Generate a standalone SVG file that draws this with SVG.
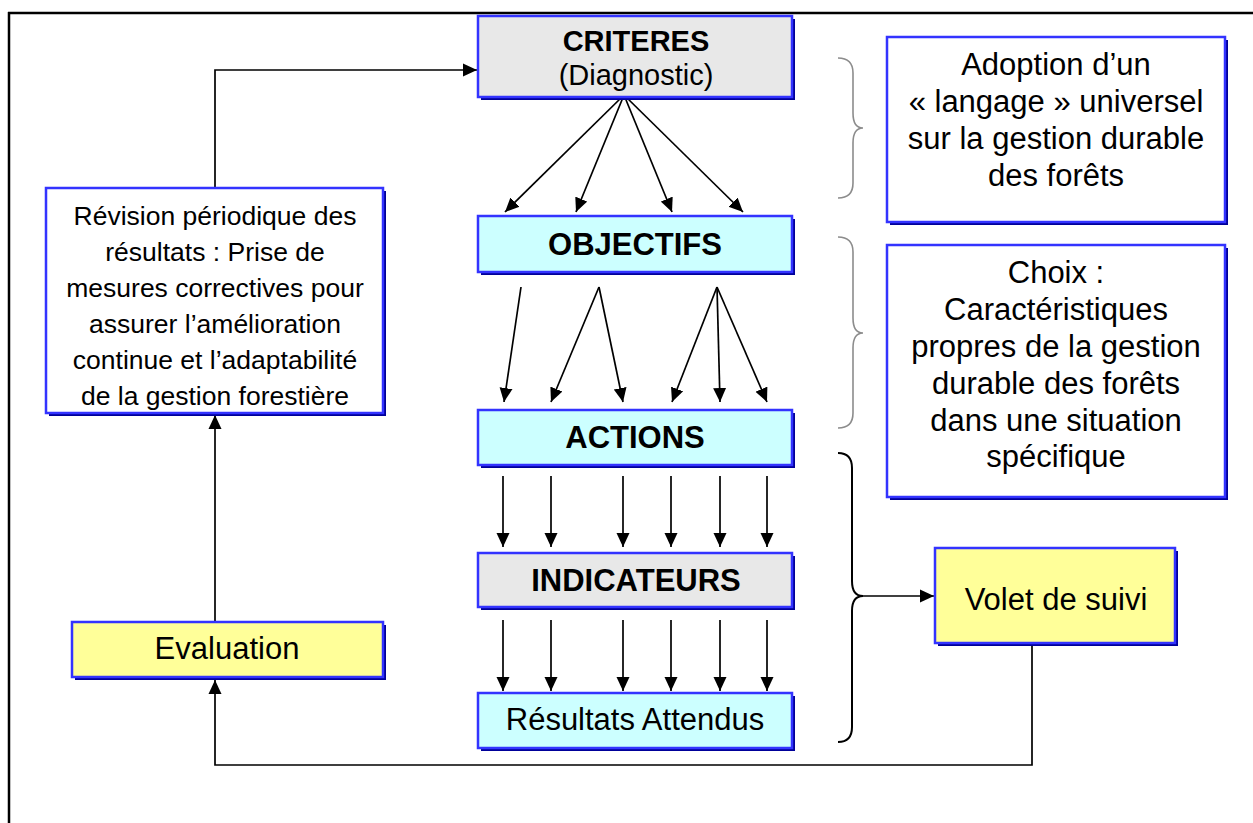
<svg xmlns="http://www.w3.org/2000/svg" width="1253" height="823" viewBox="0 0 1253 823">
<defs>
<marker id="ah" markerWidth="14" markerHeight="14" refX="14" refY="7" orient="auto" markerUnits="userSpaceOnUse">
<path d="M0,0.5 L14,7 L0,13.5 Z" fill="#000"/>
</marker>
<style>
.sh{fill:#000099}
.bx{stroke:#3333ff;stroke-width:2.5}
.gray{fill:#e8e8e8}
.cyan{fill:#ccffff}
.yel{fill:#ffff99}
.wht{fill:#ffffff}
.t{font-family:"Liberation Sans",Arial,sans-serif;fill:#000;text-anchor:middle}
.b{font-weight:bold;font-size:31px}
.r{font-size:31px}
.s{font-size:26.5px}
.c{font-size:29px}
.ln{fill:none;stroke:#000;stroke-width:1.6}
.ar{fill:none;stroke:#000;stroke-width:1.7;marker-end:url(#ah)}
.brg{fill:none;stroke:#8c8c8c;stroke-width:1.6}
.brk{fill:none;stroke:#000;stroke-width:2}
</style>
</defs>
<rect width="1253" height="823" fill="#fff"/>
<g id="frame">
<line x1="8" y1="13" x2="1253" y2="13" stroke="#000" stroke-width="2.5"/>
<line x1="9" y1="12" x2="9" y2="823" stroke="#000" stroke-width="2.5"/>
</g>
<g id="connectors">
<polyline class="ar" points="215,188 215,70 477,70"/>
<line class="ar" x1="215" y1="622" x2="215" y2="415"/>
<polyline class="ar" points="1032,643 1032,765 215,765 215,680"/>
<line class="ar" x1="624" y1="95" x2="505" y2="212"/>
<line class="ar" x1="624" y1="95" x2="576" y2="212"/>
<line class="ar" x1="624" y1="95" x2="672" y2="212"/>
<line class="ar" x1="624" y1="95" x2="743" y2="212"/>
<line class="ar" x1="521" y1="287" x2="504" y2="402"/>
<line class="ar" x1="599" y1="287" x2="551" y2="402"/>
<line class="ar" x1="599" y1="287" x2="623" y2="402"/>
<line class="ar" x1="717" y1="287" x2="672" y2="402"/>
<line class="ar" x1="717" y1="287" x2="720" y2="402"/>
<line class="ar" x1="717" y1="287" x2="767" y2="402"/>
<line class="ar" x1="503" y1="476" x2="503" y2="547"/>
<line class="ar" x1="551" y1="476" x2="551" y2="547"/>
<line class="ar" x1="623" y1="476" x2="623" y2="547"/>
<line class="ar" x1="671" y1="476" x2="671" y2="547"/>
<line class="ar" x1="720" y1="476" x2="720" y2="547"/>
<line class="ar" x1="767" y1="476" x2="767" y2="547"/>
<line class="ar" x1="503" y1="620" x2="503" y2="691"/>
<line class="ar" x1="551" y1="620" x2="551" y2="691"/>
<line class="ar" x1="623" y1="620" x2="623" y2="691"/>
<line class="ar" x1="671" y1="620" x2="671" y2="691"/>
<line class="ar" x1="720" y1="620" x2="720" y2="691"/>
<line class="ar" x1="767" y1="620" x2="767" y2="691"/>
<path class="brg" d="M838,58 Q853,58 853,73 L853,113 Q853,128 863,128 Q853,128 853,143 L853,183 Q853,198 838,198"/>
<path class="brg" d="M838,237 Q853,237 853,252 L853,318 Q853,333 863,333 Q853,333 853,348 L853,413 Q853,428 838,428"/>
<path class="brk" d="M838,453 Q852,453 852,468 L852,581 Q852,596 863,596 Q852,596 852,611 L852,727 Q852,742 838,742"/>
<line class="ar" x1="863" y1="596" x2="934" y2="596"/>
</g>
<g id="criteres">
<rect class="sh" x="481" y="19" width="314" height="81"/>
<rect class="bx gray" x="478" y="16" width="314" height="81"/>
<text class="t c" x="636" y="51" font-weight="bold">CRITERES</text>
<text class="t c" x="636" y="85">(Diagnostic)</text>
</g>
<g id="objectifs">
<rect class="sh" x="481" y="219" width="314" height="56"/>
<rect class="bx cyan" x="478" y="216" width="314" height="56"/>
<text class="t b" x="635" y="255">OBJECTIFS</text>
</g>
<g id="actions">
<rect class="sh" x="481" y="413" width="314" height="55"/>
<rect class="bx cyan" x="478" y="410" width="314" height="55"/>
<text class="t b" x="635" y="448">ACTIONS</text>
</g>
<g id="indicateurs">
<rect class="sh" x="481" y="556" width="314" height="54"/>
<rect class="bx gray" x="478" y="553" width="314" height="54"/>
<text class="t b" x="636" y="591">INDICATEURS</text>
</g>
<g id="resultats">
<rect class="sh" x="481" y="696" width="314" height="55"/>
<rect class="bx cyan" x="478" y="693" width="314" height="55"/>
<text class="t r" x="635" y="730">Résultats Attendus</text>
</g>
<g id="revision">
<rect class="sh" x="49" y="191" width="337" height="225"/>
<rect class="bx wht" x="46" y="188" width="337" height="225"/>
<text class="t s" x="215" y="225">Révision périodique des</text>
<text class="t s" x="215" y="261">résultats : Prise de</text>
<text class="t s" x="215" y="297">mesures correctives pour</text>
<text class="t s" x="215" y="333">assurer l’amélioration</text>
<text class="t s" x="215" y="369">continue et l’adaptabilité</text>
<text class="t s" x="215" y="405">de la gestion forestière</text>
</g>
<g id="evaluation">
<rect class="sh" x="75" y="625" width="311" height="55"/>
<rect class="bx yel" x="72" y="622" width="311" height="55"/>
<text class="t r" x="227" y="659">Evaluation</text>
</g>
<g id="adoption">
<rect class="sh" x="890" y="40" width="338" height="185"/>
<rect class="bx wht" x="887" y="37" width="338" height="185"/>
<text class="t r" x="1056" y="75">Adoption d’un</text>
<text class="t r" x="1056" y="112">« langage » universel</text>
<text class="t r" x="1056" y="149">sur la gestion durable</text>
<text class="t r" x="1056" y="186">des forêts</text>
</g>
<g id="choix">
<rect class="sh" x="890" y="248" width="338" height="252"/>
<rect class="bx wht" x="887" y="245" width="338" height="252"/>
<text class="t r" x="1056" y="283">Choix :</text>
<text class="t r" x="1056" y="320">Caractéristiques</text>
<text class="t r" x="1056" y="357">propres de la gestion</text>
<text class="t r" x="1056" y="394">durable des forêts</text>
<text class="t r" x="1056" y="431">dans une situation</text>
<text class="t r" x="1056" y="467">spécifique</text>
</g>
<g id="volet">
<rect class="sh" x="938" y="551" width="240" height="95"/>
<rect class="bx yel" x="935" y="548" width="240" height="95"/>
<text class="t r" x="1056" y="610">Volet de suivi</text>
</g>
</svg>
